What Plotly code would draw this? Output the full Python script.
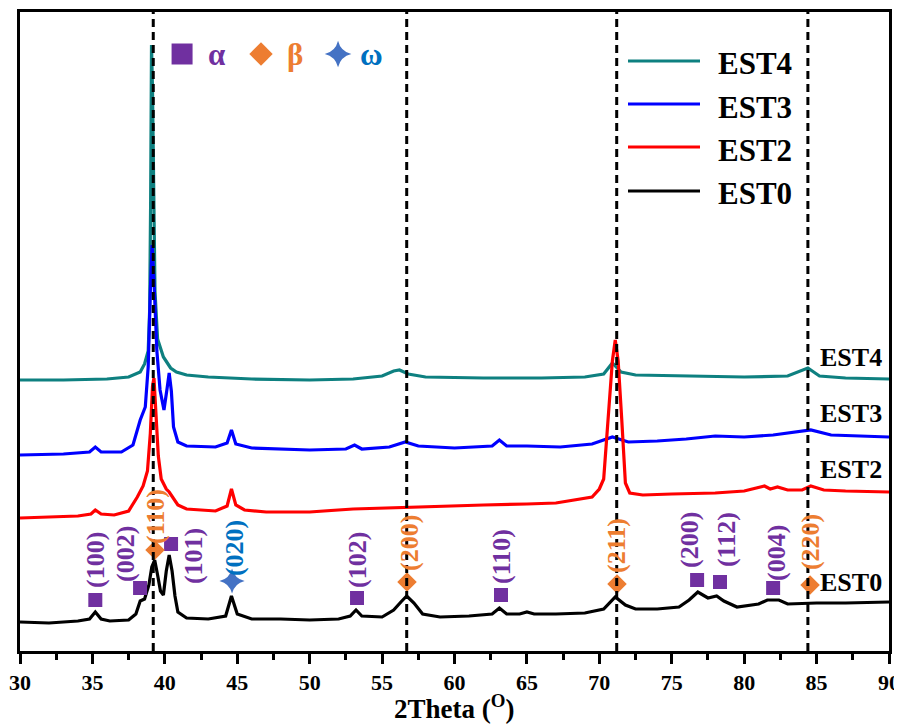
import plotly.graph_objects as go

# ---------------- data ----------------
est0_x = [30, 32, 34, 34.8, 35.2, 35.6, 36.2, 37.5, 38.0, 38.3, 38.6, 38.9, 39.1, 39.3, 39.5, 39.7, 39.9,
          40.1, 40.3, 40.5, 40.7, 40.9, 41.5, 43, 44.2, 44.6, 45.0, 46, 48, 50, 52, 52.8, 53.2, 53.6, 55,
          55.8, 56.3, 56.7, 57.2, 57.8, 59, 61, 62.6, 63.1, 63.6, 64.5, 65, 65.5, 67, 69, 70.3, 71.1, 71.8,
          72.5, 74, 75.5, 76.2, 76.8, 77.5, 78.1, 78.6, 79.5, 81, 81.6, 82.4, 83, 85, 87, 90]
est0_y = [29, 28, 30, 32, 39, 32, 30, 31, 37, 50, 52, 66, 84, 91, 76, 60, 56,
          80, 96, 80, 55, 39, 33, 32, 35, 55, 37, 32, 32, 31, 32, 35, 41, 35, 34,
          41, 49, 55, 48, 37, 34, 35, 37, 43, 37, 37, 39, 37, 37, 38, 42, 54, 46,
          42, 42, 44, 51, 59, 53, 55, 50, 44, 47, 51, 51, 47, 48, 48, 49]

est2_x = [30, 32, 34, 34.9, 35.2, 35.6, 36.5, 37.5, 38.1, 38.5, 38.8, 39.0, 39.15, 39.25, 39.4, 39.55,
          39.75, 40.1, 40.3, 40.6, 40.9, 41.5, 43.5, 44.3, 44.6, 44.9, 45.5, 47, 50, 53, 55, 58, 62, 65,
          67, 69.5, 70.0, 70.3, 70.6, 70.9, 71.1, 71.3, 71.55, 71.8, 72.1, 73, 75, 78, 80, 81.4, 81.8,
          82.3, 83, 84, 84.6, 85.5, 87, 90]
est2_y = [133, 134, 135, 137, 141, 137, 136, 140, 154, 165, 180, 218, 265, 273, 240, 195,
          172, 162, 159, 152, 146, 142, 140, 145, 162, 146, 141, 139, 139, 142, 143, 144, 146, 147,
          148, 154, 162, 172, 231, 290, 311, 290, 231, 168, 158, 156, 157, 158, 160, 165, 162,
          164, 161, 161, 165, 161, 160, 159]

est3_x = [30, 33, 34.8, 35.2, 35.6, 37.0, 37.8, 38.3, 38.65, 38.85, 39.0, 39.12, 39.25, 39.45, 39.67,
          39.94, 40.15, 40.3, 40.45, 40.6, 40.9, 41.5, 43.5, 44.3, 44.6, 44.9, 46, 50, 52.5, 53.1, 53.6,
          55.5, 56.6, 57.5, 60, 62.6, 63.1, 63.6, 65, 67.3, 69.5, 70.9, 72, 74, 76, 78, 80, 82, 84.6,
          86, 88, 90]
est3_y = [196, 197, 199, 204, 199, 199, 206, 231, 244, 284, 360, 406, 370, 300, 261,
          241, 262, 278, 260, 224, 209, 205, 204, 208, 221, 207, 203, 201, 202, 206, 202,
          204, 209, 205, 203, 205, 211, 205, 205, 204, 207, 214, 209, 210, 212, 215, 214, 216, 221,
          216, 215, 214]

est4_x = [30, 33, 36, 37.5, 38.3, 38.6, 38.85, 38.95, 39.02, 39.08, 39.15, 39.22, 39.32, 39.5, 39.9,
          40.4, 40.8, 41.5, 43, 46, 50, 53, 55, 55.8, 56.2, 56.8, 58, 62, 66, 69, 70.3, 70.9, 71.5,
          72.5, 76, 80, 83, 84.4, 85.2, 87, 90]
est4_y = [271, 271, 272, 274, 279, 287, 300, 340, 450, 606, 560, 450, 360, 312, 294,
          283, 279, 276, 274, 272, 271, 272, 275, 280, 281, 277, 274, 273, 273, 274, 277, 288, 279,
          276, 275, 274, 275, 283, 275, 273, 272]

series_names = ["EST4", "EST3", "EST2", "EST0"]
series_colors = ["#0E8080", "#0000FF", "#FF0000", "#000000"]
series_x = [est4_x, est3_x, est2_x, est0_x]
series_y = [est4_y, est3_y, est2_y, est0_y]

# curve-end labels
end_label_x = [87.4, 87.4, 87.4, 87.4]
end_label_y = [294, 238, 182, 69]

# reference lines (2θ)
ref_lines = [39.2, 56.7, 71.2, 84.4]

# phase markers
alpha_x = [35.2, 38.29, 40.43, 53.27, 63.21, 76.75, 78.33, 82.0]
alpha_y = [51, 63, 107, 53, 56, 71, 69, 63]
beta_x = [39.32, 56.72, 71.22, 84.55]
beta_y = [101, 69, 67, 66]
omega_x = [44.64]
omega_y = [70]

# Miller-index labels
hkl_text = ["(100)", "(002)", "(110)", "(101)", "(020)", "(102)", "(200)", "(110)", "(211)",
            "(200)", "(112)", "(004)", "(220)"]
hkl_x = [35.18, 37.25, 39.32, 41.95, 44.78, 53.27, 56.86, 63.21, 71.15, 76.19, 78.75, 82.2, 84.55]
hkl_y = [91, 97, 135, 95, 103, 91, 108, 95, 106, 111, 111, 98, 109]
hkl_phase = ["a", "a", "b", "a", "w", "a", "b", "a", "b", "a", "a", "a", "b"]

x_ticks = [30, 35, 40, 45, 50, 55, 60, 65, 70, 75, 80, 85, 90]

# ---------------- styles ----------------
PURPLE = "#7030A0"
ORANGE = "#ED7D31"
STARBLUE = "#4472C4"
OMEGA = "#0070C0"
phase_color = {"a": PURPLE, "b": ORANGE, "w": OMEGA}
FONT = "Liberation Serif"

# page body has an 8px margin; size the figure so it ends at the window edge
OFF = 8
W, H = 902 - OFF, 725 - OFF
# target plot area in page pixels: x 20..889, y 12..651
ML, MT = 20 - OFF, 12 - OFF
MR = W - (889 - OFF)
MB = H - (651 - OFF)
YMAX = 639


def px2paper_x(px):
    return (px - OFF - ML) / (W - ML - MR)


def px2paper_y(py):
    return (H - MB - (py - OFF)) / (H - MB - MT)


fig = go.Figure()

for name, col, xs, ys in zip(series_names, series_colors, series_x, series_y):
    fig.add_trace(go.Scatter(x=xs, y=ys, mode="lines", name=name,
                             line=dict(color=col, width=3.2), showlegend=False))

fig.add_trace(go.Scatter(x=alpha_x, y=alpha_y, mode="markers", showlegend=False,
                         marker=dict(symbol="square", size=14, color=PURPLE)))
fig.add_trace(go.Scatter(x=beta_x, y=beta_y, mode="markers", showlegend=False,
                         marker=dict(symbol="diamond", size=15, color=ORANGE)))
fig.add_trace(go.Scatter(x=omega_x, y=omega_y, mode="markers", showlegend=False,
                         marker=dict(symbol="star-diamond", size=18, color=STARBLUE)))

# symbol key at top
key_y = 597
fig.add_trace(go.Scatter(x=[41.19], y=[key_y], mode="markers", showlegend=False,
                         marker=dict(symbol="square", size=21, color=PURPLE)))
fig.add_trace(go.Scatter(x=[46.64], y=[key_y], mode="markers", showlegend=False,
                         marker=dict(symbol="diamond", size=18, color=ORANGE)))
fig.add_trace(go.Scatter(x=[51.96], y=[key_y], mode="markers", showlegend=False,
                         marker=dict(symbol="star-diamond", size=19, color=STARBLUE)))
for gx, gt, gc in [(43.6, "α", PURPLE), (48.99, "β", ORANGE), (54.3, "ω", OMEGA)]:
    fig.add_annotation(x=gx, y=key_y, text=gt, showarrow=False, xanchor="center", yanchor="middle",
                       font=dict(family=FONT, size=31, color=gc, weight="bold"))

# dashed reference lines
for xv in ref_lines:
    fig.add_shape(type="line", xref="x", yref="paper", x0=xv, x1=xv, y0=0, y1=1,
                  line=dict(color="black", width=3, dash="8px,5px"), layer="above")

# hkl labels
for t, xv, yv, ph in zip(hkl_text, hkl_x, hkl_y, hkl_phase):
    fig.add_annotation(x=xv, y=yv, text=t, textangle=-90, showarrow=False,
                       xanchor="center", yanchor="middle",
                       font=dict(family=FONT, size=26, color=phase_color[ph], weight="bold"))

# end labels
for name, xv, yv in zip(series_names, end_label_x, end_label_y):
    fig.add_annotation(x=xv, y=yv, text=name, showarrow=False, xanchor="center", yanchor="middle",
                       font=dict(family=FONT, size=26, color="black", weight="bold"))

# legend box (custom, longer line samples)
leg_line_py = [61, 104, 147, 191]
leg_text_py = [64, 107, 150, 193]
for name, col, lp, tp in zip(series_names, series_colors, leg_line_py, leg_text_py):
    fig.add_shape(type="line", xref="paper", yref="paper",
                  x0=px2paper_x(628), x1=px2paper_x(700), y0=px2paper_y(lp), y1=px2paper_y(lp),
                  line=dict(color=col, width=3))
    fig.add_annotation(xref="paper", yref="paper", x=px2paper_x(716), y=px2paper_y(tp),
                       text=name, showarrow=False, xanchor="left", yanchor="middle",
                       font=dict(family=FONT, size=31, color="black", weight="bold"))

# x-axis title
fig.add_annotation(xref="paper", yref="paper", x=px2paper_x(454), y=px2paper_y(707),
                   text="2Theta (<sup>O</sup>)", showarrow=False, xanchor="center", yanchor="middle",
                   font=dict(family=FONT, size=27, color="black", weight="bold"))

fig.update_layout(
    width=W, height=H,
    margin=dict(l=ML, r=MR, t=MT, b=MB, autoexpand=False),
    paper_bgcolor="white", plot_bgcolor="white",
    showlegend=False,
)
fig.update_xaxes(range=[30, 90], tickvals=x_ticks, ticks="outside", ticklen=10, tickwidth=3,
                 tickcolor="black", showline=True, linewidth=3, linecolor="black", mirror=True,
                 showgrid=False, zeroline=False, automargin=False, ticklabeloverflow="allow",
                 minor=dict(dtick=2.5, tick0=30, ticks="outside", ticklen=6, tickwidth=3, tickcolor="black"),
                 tickfont=dict(family=FONT, size=22, color="black", weight="bold"))
fig.update_yaxes(range=[0, YMAX], showticklabels=False, ticks="", showline=True, linewidth=3,
                 linecolor="black", mirror=True, showgrid=False, zeroline=False, automargin=False)

fig.write_html("out.html")
